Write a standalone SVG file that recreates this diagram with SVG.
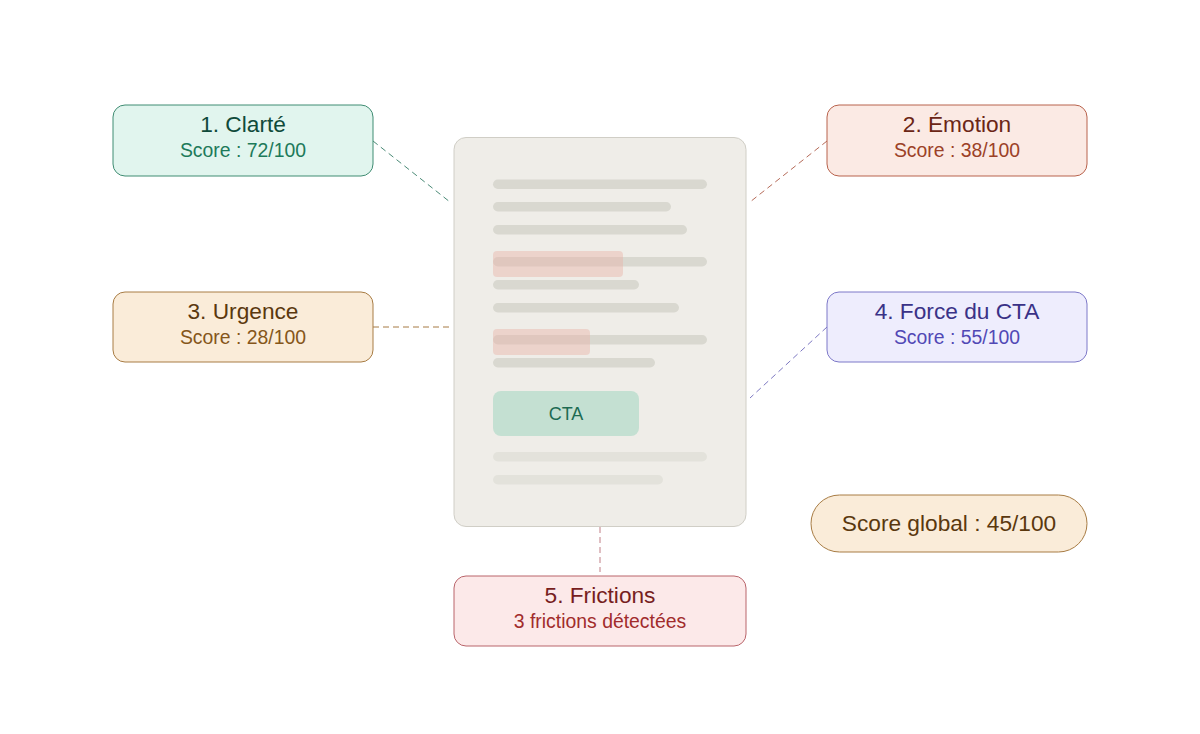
<svg xmlns="http://www.w3.org/2000/svg" width="1200" height="734" viewBox="0 0 1200 734">
<style>
text{font-family:"Liberation Sans",Arial,sans-serif;text-anchor:middle;dominant-baseline:central}
.t{font-size:22.7px}
.s{font-size:19.4px}
.ln{fill:#d9d8d0}
.ln2{fill:#e3e2db}
.hl{fill:#e8b4a8;opacity:0.45}
.c{fill:none;stroke-width:1;stroke-dasharray:6 4}
</style>
<rect width="1200" height="734" fill="#ffffff"/>
<g id="connectors">
<line class="c" x1="373" y1="141" x2="450" y2="202" stroke="#4a8a76"/>
<line class="c" x1="827" y1="141" x2="750" y2="202" stroke="#b56a58"/>
<line class="c" x1="373" y1="327" x2="450" y2="327" stroke="#a67a45"/>
<line class="c" x1="827" y1="327" x2="750" y2="398" stroke="#7d78c2"/>
<line class="c" x1="600" y1="527" x2="600" y2="572" stroke="#c07f86"/>
</g>
<g id="document">
<rect x="454" y="137.5" width="292" height="389" rx="12" fill="#efede8" stroke="#d0cec6" stroke-width="1"/>
<rect class="ln" x="493" y="179.5" width="214" height="9.5" rx="4.75"/>
<rect class="ln" x="493" y="202" width="178" height="9.5" rx="4.75"/>
<rect class="ln" x="493" y="225" width="194" height="9.5" rx="4.75"/>
<rect class="ln" x="493" y="257" width="214" height="9.5" rx="4.75"/>
<rect class="hl" x="493" y="251" width="130" height="26" rx="4"/>
<rect class="ln" x="493" y="280" width="146" height="9.5" rx="4.75"/>
<rect class="ln" x="493" y="303" width="186" height="9.5" rx="4.75"/>
<rect class="ln" x="493" y="335" width="214" height="9.5" rx="4.75"/>
<rect class="hl" x="493" y="329" width="97" height="26" rx="4"/>
<rect class="ln" x="493" y="358" width="162" height="9.5" rx="4.75"/>
<rect x="493" y="391" width="146" height="45" rx="8" fill="#c4e0d2"/>
<text x="566" y="413.5" font-size="18" fill="#1d6b53">CTA</text>
<rect class="ln2" x="493" y="452" width="214" height="9.5" rx="4.75"/>
<rect class="ln2" x="493" y="475" width="170" height="9.5" rx="4.75"/>
</g>
<g id="clarte">
<rect x="113" y="105" width="260" height="71" rx="12" fill="#e1f5ee" stroke="#3f8c72"/>
<text class="t" x="243" y="123.5" fill="#0f4a3a">1. Clarté</text>
<text class="s" x="243" y="150" fill="#1d7a5a">Score : 72/100</text>
</g>
<g id="emotion">
<rect x="827" y="105" width="260" height="71" rx="12" fill="#fbeae4" stroke="#b8624c"/>
<text class="t" x="957" y="123.5" fill="#6b2616">2. Émotion</text>
<text class="s" x="957" y="150" fill="#9c4127">Score : 38/100</text>
</g>
<g id="urgence">
<rect x="113" y="292" width="260" height="70" rx="12" fill="#faecd9" stroke="#a87c44"/>
<text class="t" x="243" y="310.5" fill="#5a380e">3. Urgence</text>
<text class="s" x="243" y="337" fill="#85561a">Score : 28/100</text>
</g>
<g id="force-cta">
<rect x="827" y="292" width="260" height="70" rx="12" fill="#eeedfd" stroke="#7d78c8"/>
<text class="t" x="957" y="310.5" fill="#3a3287">4. Force du CTA</text>
<text class="s" x="957" y="337" fill="#5148b5">Score : 55/100</text>
</g>
<g id="frictions">
<rect x="454" y="576" width="292" height="70" rx="12" fill="#fce9e9" stroke="#b9646a"/>
<text class="t" x="600" y="594.5" fill="#771e1e">5. Frictions</text>
<text class="s" x="600" y="621" fill="#a12c2c">3 frictions détectées</text>
</g>
<g id="score-global">
<rect x="811" y="495" width="276" height="57" rx="28.5" fill="#faecd9" stroke="#a87c44"/>
<text x="949" y="522.5" font-size="22.7" fill="#5a380e">Score global : 45/100</text>
</g>
</svg>
